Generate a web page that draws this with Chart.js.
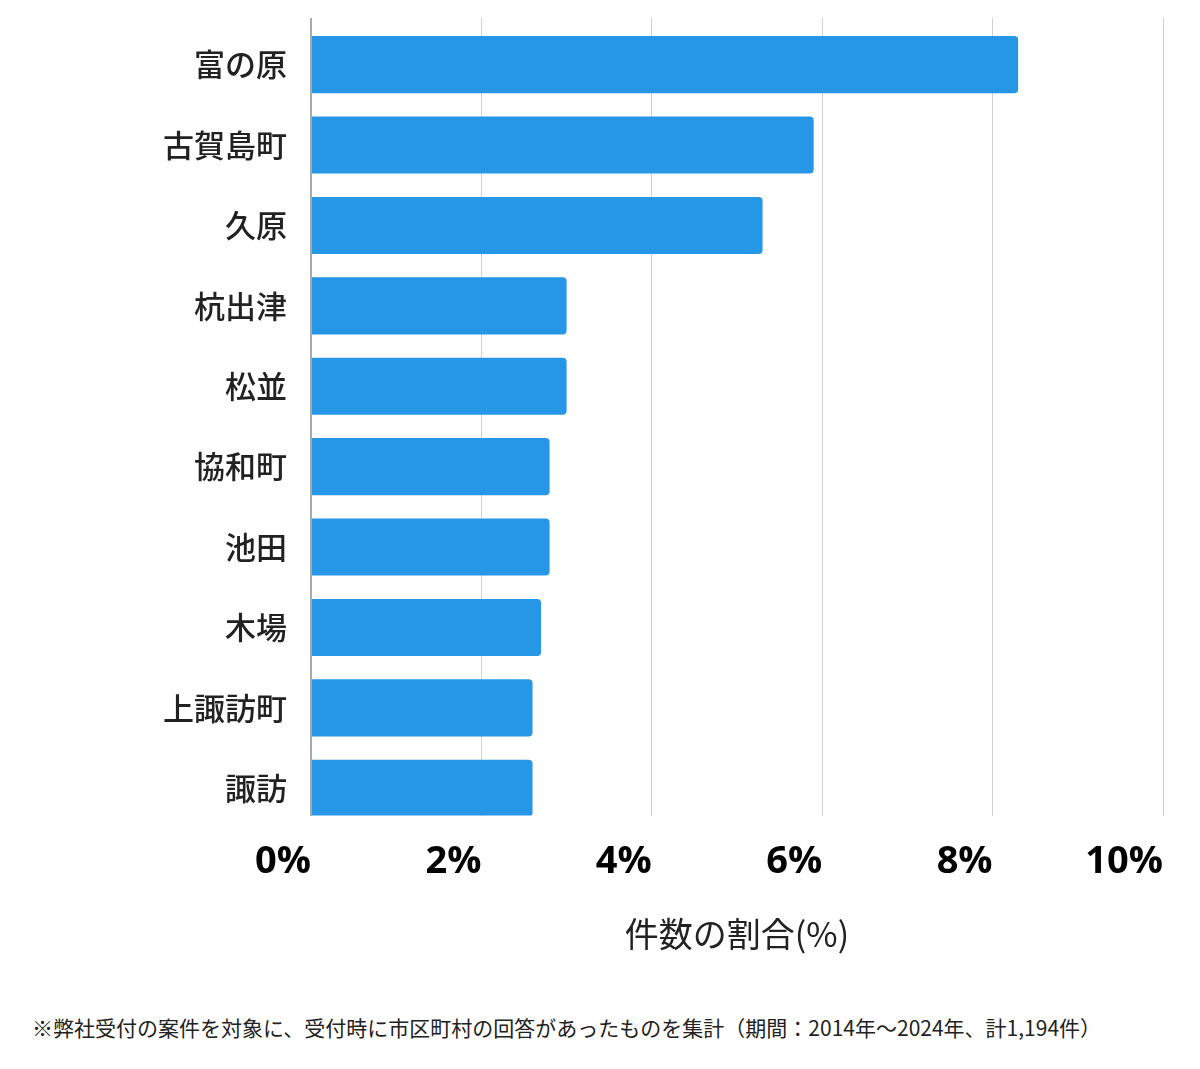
<!DOCTYPE html>
<html><head><meta charset="utf-8">
<script src="https://cdn.jsdelivr.net/npm/chart.js@4"></script>
<style>
html,body{margin:0;padding:0;background:#fff;}
#wrap{position:absolute;left:0;top:0;width:1200px;height:960px;}
#note{position:absolute;left:32px;top:1012px;font-family:'Noto Sans CJK JP';font-size:21px;color:#222;white-space:nowrap;}
</style></head>
<body>
<div id="wrap"><canvas id="c"></canvas></div>
<div id="note">※弊社受付の案件を対象に、受付時に市区町村の回答があったものを集計（期間：2014年～2024年、計1,194件）</div>
<script>
const categories = ['富の原','古賀島町','久原','杭出津','松並','協和町','池田','木場','上諏訪町','諏訪'];
const shares = [8.3, 5.9, 5.3, 3.0, 3.0, 2.8, 2.8, 2.7, 2.6, 2.6];
const xTicks = [0, 2, 4, 6, 8, 10];
const xTitle = '件数の割合(%)';

new Chart(document.getElementById('c'), {
  type: 'bar',
  data: {
    datasets: [{
      data: shares.map((v, i) => ({ x: v, y: i })),
      backgroundColor: '#2696E6',
      borderRadius: 4,
      borderSkipped: 'start',
      barPercentage: 0.71,
      categoryPercentage: 1
    }]
  },
  options: {
    indexAxis: 'y',
    responsive: true,
    maintainAspectRatio: false,
    animation: false,
    layout: { padding: { top: 18, right: 37, bottom: 6, left: 0 } },
    plugins: { legend: { display: false }, tooltip: { enabled: false } },
    scales: {
      x: {
        type: 'linear',
        min: 0, max: 10,
        afterBuildTicks: (s) => { s.ticks = xTicks.map(v => ({ value: v })); },
        afterFit: (s) => { s.paddingLeft = 0; s.paddingRight = 0; },
        ticks: {
          align: 'end',
          padding: 24,
          color: '#000',
          font: { family: "'Open Sans'", size: 38, weight: 'bold' },
          callback: (v) => v + '%'
        },
        grid: {
          color: (ctx) => ctx.tick && ctx.tick.value === 0 ? '#aaa' : '#d0d0d0',
          lineWidth: (ctx) => ctx.tick && ctx.tick.value === 0 ? 2 : 1,
          drawTicks: false
        },
        border: { display: false },
        title: {
          display: true,
          text: xTitle,
          color: '#222',
          font: { family: "'Noto Sans CJK JP'", size: 34 },
          padding: { top: 4, bottom: 0 }
        }
      },
      y: {
        type: 'linear',
        reverse: true,
        offset: false,
        min: -0.58,
        max: 9.34,
        afterBuildTicks: (s) => { s.ticks = categories.map((c, i) => ({ value: i })); },
        afterFit: (s) => { s.width = 311; s.paddingTop = 0; s.paddingBottom = 0; },
        ticks: {
          padding: 24,
          color: '#222',
          font: { family: "'Noto Sans CJK JP'", size: 31, weight: '500' },
          callback: (v) => categories[v]
        },
        grid: { display: false, drawTicks: false },
        border: { display: false }
      }
    }
  }
});
</script>
</body></html>
